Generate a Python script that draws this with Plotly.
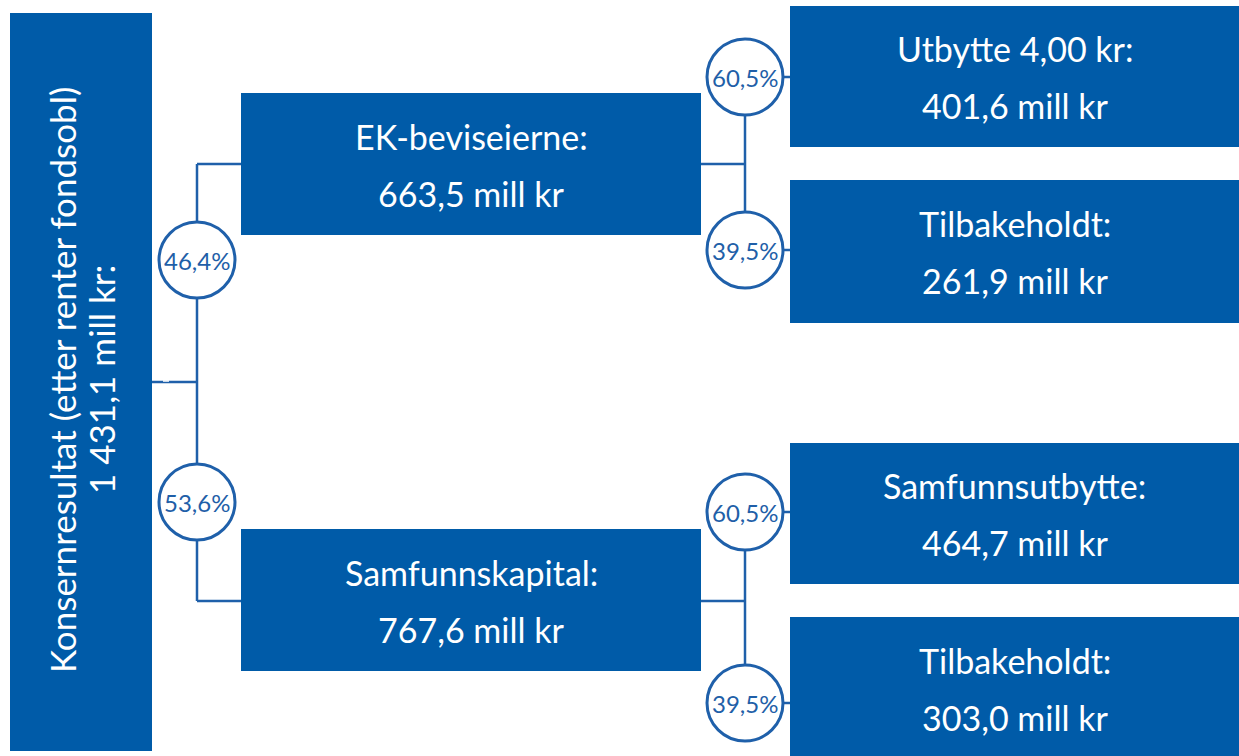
import plotly.graph_objects as go

# ---- data ----
node_titles = ["Konsernresultat (etter renter fondsobl)", "EK-beviseierne:", "Samfunnskapital:",
               "Utbytte 4,00 kr:", "Tilbakeholdt:", "Samfunnsutbytte:", "Tilbakeholdt:"]
node_values = ["1 431,1 mill kr:", "663,5 mill kr", "767,6 mill kr",
               "401,6 mill kr", "261,9 mill kr", "464,7 mill kr", "303,0 mill kr"]
share_labels = ["46,4%", "53,6%", "60,5%", "39,5%", "60,5%", "39,5%"]

# ---- layout geometry (pixels) ----
W, H = 1239, 756
BOX = "#005BA8"
LINE = "#1F60AA"
TXT = "#1F5FA8"
FONT = "Lato"

boxes = [(10, 13, 152, 751), (241, 93, 701, 235), (241, 529, 701, 671),
         (790, 6, 1239, 147), (790, 180, 1239, 323), (790, 443, 1239, 584), (790, 617, 1239, 759)]
circles = [(197, 260), (197, 502), (745, 77), (745, 250), (745, 512), (745, 703)]
R = 38
segments = [
    (152, 382, 197, 382), (197, 164, 197, 601), (197, 164, 241, 164), (197, 601, 241, 601),
    (701, 164, 745, 164), (745, 77, 745, 250), (745, 77, 790, 77), (745, 250, 790, 250),
    (701, 601, 745, 601), (745, 512, 745, 703), (745, 512, 790, 512), (745, 703, 790, 703),
]

shapes = []
for (x0, y0, x1, y1) in boxes:
    shapes.append(dict(type="rect", x0=x0, y0=y0, x1=x1, y1=y1, fillcolor=BOX,
                       line=dict(width=0), layer="above"))
for (x0, y0, x1, y1) in segments:
    shapes.append(dict(type="line", x0=x0, y0=y0, x1=x1, y1=y1,
                       line=dict(color=LINE, width=2.5), layer="above"))
# small white gap artifact on root connector
shapes.append(dict(type="line", x0=163, y0=381, x1=169, y1=381,
                   line=dict(color="white", width=1.5), layer="above"))
for (cx, cy) in circles:
    shapes.append(dict(type="circle", x0=cx - R, x1=cx + R, y0=cy - R, y1=cy + R,
                       fillcolor="white", line=dict(color=LINE, width=3), layer="above"))

ann = []
# root (rotated)
cy = 380
ann.append(dict(x=62, y=cy, text=node_titles[0], textangle=-90, showarrow=False,
                font=dict(family=FONT, size=35, color="white")))
ann.append(dict(x=101, y=cy, text=node_values[0], textangle=-90, showarrow=False,
                font=dict(family=FONT, size=35, color="white")))
for i in range(1, len(boxes)):
    x0, y0, x1, y1 = boxes[i]
    cx = (x0 + x1) / 2
    cy = (y0 + y1) / 2
    ann.append(dict(x=cx, y=cy - 28, text=node_titles[i], showarrow=False,
                    font=dict(family=FONT, size=34, color="white")))
    ann.append(dict(x=cx, y=cy + 29, text=node_values[i], showarrow=False,
                    font=dict(family=FONT, size=34, color="white")))
for (cx, cy), lab in zip(circles, share_labels):
    ann.append(dict(x=cx, y=cy, text=lab, showarrow=False,
                    font=dict(family=FONT, size=24, color=TXT)))

fig = go.Figure()
fig.add_trace(go.Scatter(x=[0, W], y=[0, H], mode="markers", marker=dict(opacity=0),
                         hoverinfo="skip", showlegend=False))
fig.update_layout(
    width=W, height=H, margin=dict(l=0, r=0, t=0, b=0),
    paper_bgcolor="white", plot_bgcolor="white",
    xaxis=dict(range=[0, W], visible=False, fixedrange=True),
    yaxis=dict(range=[H, 0], visible=False, fixedrange=True),
    shapes=shapes, annotations=ann, showlegend=False,
)
fig.write_html("out.html", config={"displayModeBar": False},
               post_script="document.body.style.margin='0';document.body.style.overflow='hidden';")
